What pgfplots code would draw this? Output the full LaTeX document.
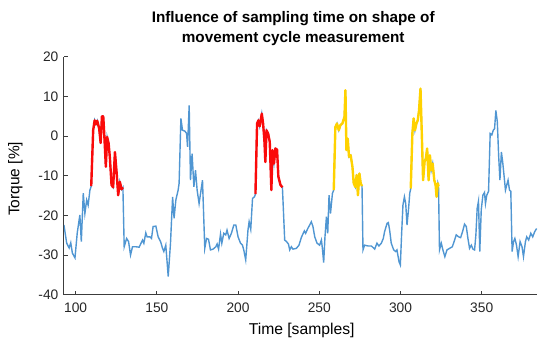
\documentclass[border=0pt]{standalone}
\usepackage{fontspec}
\setmainfont{Liberation Sans}
\usepackage{pgfplots}
\pgfplotsset{compat=1.18}
\definecolor{lblue}{RGB}{80,150,210}
\definecolor{lred}{RGB}{250,10,10}
\definecolor{lyel}{RGB}{255,210,0}
\definecolor{axgray}{RGB}{60,60,60}
\begin{document}
\begin{tikzpicture}
\begin{axis}[
  scale only axis,
  width=474pt, height=238pt,
  at={(0,0)}, anchor=south west,
  xmin=92.8, xmax=384.3, ymin=-40, ymax=20,
  axis x line*=bottom, axis y line*=left,
  axis line style={-, axgray, line width=1.1pt},
  tick align=inside,
  major tick length=4pt,
  tick style={axgray, line width=1pt},
  xtick={100,150,200,250,300,350},
  ytick={-40,-30,-20,-10,0,10,20},
  /pgf/number format/assume math mode=true,
  tick label style={font=\fontsize{13.8}{16}\selectfont, text=black!85},
  xticklabel style={anchor=base, yshift=-18pt},
  yticklabel style={xshift=-2pt},
  title={Influence of sampling time on shape of\\movement cycle measurement},
  every axis title/.style={at={(axis description cs:0.5,1)}, anchor=south, inner sep=0pt, yshift=10.8pt, xshift=-7.5pt, align=center, font=\bfseries\fontsize{15.3}{20}\selectfont},
  xlabel={Time [samples]},
  every axis x label/.style={at={(axis description cs:0.502,-0.168)}, anchor=base, font=\fontsize{15.7}{18}\selectfont},
  ylabel={Torque [\%]},
  every axis y label/.style={at={(axis description cs:-0.0939,0.487)}, rotate=90, anchor=base, font=\fontsize{15.5}{18}\selectfont},
]
\addplot[lblue, line width=1.4pt] coordinates {
(92.8,-22.4) (94.5,-27) (96,-28.2) (97,-26.9) (98,-29.5) (99.6,-30.7) (101,-24.4) (102.6,-19.9) (103.5,-26.6) (104.7,-14.4) (105.7,-19.5) (106.8,-16.1) (107.7,-17.4) (108.8,-13.6) (109.6,-12.6)
(110.8,1.5) (111.7,4.0) (112.5,3.0) (113.3,3.9) (114.5,1.9) (115.4,-1.7) (116.2,5.0) (117,5.0) (117.6,0.7) (118.6,-7.7) (119.4,-0.2) (120.3,-1.8) (121.1,-5.5) (122.1,-12.3) (123.1,-12.9) (124.2,-4) (125.2,-9) (126.2,-14.9) (127.2,-11.5) (128.3,-13.4) (129.1,-12.9)
(129.9,-27.9) (131.4,-25.8) (132.6,-26.6) (133.8,-30) (135,-27.9) (137,-27.9) (139.1,-28) (141.2,-26.2) (142,-27) (143.2,-24.4) (144,-25.4) (145.7,-25.4) (146.7,-25.8) (147.7,-22.8) (149.4,-22.7) (150.8,-25.4) (152.3,-26.6) (153.5,-28.3) (154.3,-29.1) (155.5,-27.5) (157,-35.4) (158.4,-27) (159.7,-15.3) (160.6,-20.7) (161.7,-16.1) (163.1,-13.6) (163.7,-11.9) (164.8,4.5) (165.8,1.5) (167.2,1.3) (168.3,0.7) (168.9,-2.7) (169.9,7.8) (170.7,-11.1) (171.7,-4.4) (172.8,-12.8) (173.8,-8.6) (174.8,-13.6) (176,-17) (177.2,-13.6) (178.1,-11.1) (179.5,-28.3) (180.6,-25.8) (181.8,-26) (183,-28.7) (184.6,-28.5) (186.3,-27.9) (187.1,-27.2) (188,-28.5) (189.2,-24.7) (190,-27) (191.2,-24.5) (192.4,-24.9) (193.2,-23.7) (194.5,-25.8) (195.9,-24.5) (197.4,-22.4) (198.6,-22.4) (200,-25.4) (201.5,-27) (202.7,-27.5) (203.5,-28.7) (204.7,-31.2) (206.1,-23.7) (206.8,-21.6) (207.8,-23.5) (208.9,-15.7) (210.1,-15.3) (210.7,-14.6)
(211.7,3.2) (212.5,4.0) (213.3,2.5) (214.6,5.7) (215.4,3.2) (216.2,-1) (216.8,-6.5) (217.5,1.5) (218.5,0.7) (219.5,-1.4) (220.5,-13.6) (221.2,-3.5) (222.1,-6.9) (223,-3.1) (224,-3.4) (224.8,-10.2) (226.1,-12.3) (227.3,-12.9)
(228.7,-26.2) (229.8,-26.6) (231,-27.2) (231.8,-28.7) (232.8,-27.9) (233.8,-28.5) (235.9,-28.3) (237.5,-27.5) (239,-25.5) (240.8,-23.9) (241.6,-24.5) (242.9,-23.3) (244.1,-22.4) (245.1,-21.6) (246.1,-22.8) (247.2,-25.4) (248.6,-27) (250.2,-27.5) (251.3,-26.2) (251.9,-28.3) (252.7,-31.9) (253.5,-25.4) (254.4,-20.3) (255.2,-24.5) (256,-14.9) (256.9,-19.5) (258.1,-14.4) (258.9,-13.6)
(259.9,2.3) (260.9,3.2) (262,1.5) (263,2.8) (264.2,3.2) (265.5,4.9) (266.1,11.6) (266.7,-3.5) (267.5,-0.6) (268.3,-5.2) (269.3,-4.8) (270.4,-7.7) (271.2,-11.9) (272.2,-12.8) (273,-9.8) (273.8,-14.9) (274.7,-9.4) (275.5,-11.9) (276.3,-12.6)
(276.9,-28.7) (277.9,-27.5) (280,-27.7) (282.1,-27.7) (284.1,-28.5) (285.5,-27) (286.7,-27.7) (288.2,-27) (289.4,-25.8) (290.2,-24.1) (291.7,-22) (292.5,-21.8) (293.3,-23.7) (294.3,-27) (295.8,-28.7) (297,-29.1) (297.8,-28.7) (299.1,-31.7) (299.9,-32.5) (300.7,-24.5) (301.5,-17.4) (302.4,-15.3) (303.2,-17) (304,-22.4) (304.9,-18.6) (305.7,-14.4) (306.3,-13.2)
(307.3,0.7) (308.1,4.5) (308.9,1.5) (309.8,3.2) (310.6,4.0) (311.4,6.5) (312.3,12) (313.1,0.7) (313.9,-11.1) (314.8,-6.5) (315.6,-5.6) (316.4,-3.1) (317.3,-11.1) (318.1,-4.8) (318.9,-8.6) (319.8,-6.9) (320.8,-11.1) (321.6,-12.3) (322.2,-15.3) (323,-11.9) (323.4,-12.6)
(324,-28.7) (325.1,-27) (326.1,-28.7) (327.3,-30.4) (328.6,-28.7) (330.2,-28.3) (331.9,-27.9) (333.3,-26.2) (334.3,-24.9) (335.8,-25.4) (337,-25.6) (338.2,-24.1) (339.4,-22.2) (340.5,-22.8) (341.5,-25.8) (342.5,-28.3) (343.6,-27.5) (344.6,-28.5) (345.6,-28.7) (346.4,-24.9) (347.2,-18.2) (348,-16.4) (348.8,-29.1) (349.7,-18.6) (350.7,-14.9) (351.7,-14.2) (352.3,-17) (353.1,-14.9) (354.2,-13.9) (355.2,0.7) (356.2,0.3) (357.1,1.5) (357.9,1.9) (358.7,6.5) (359.6,3.6) (360.4,-4.8) (361.2,-11.1) (362.1,-4) (362.9,-6.5) (363.7,-9.8) (364.6,-13.6) (365.4,-12.3) (366.2,-11.1) (367.1,-13.6) (367.9,-13.9) (368.7,-29.1) (369.6,-26.6) (370.4,-25.8) (371.4,-27.5) (372.4,-30.4) (373.6,-26.6) (374.8,-27.9) (375.7,-30.4) (376.9,-26.6) (377.7,-25.4) (378.9,-26.2) (380.2,-24.5) (381.4,-25.4) (382.6,-24.1) (383.8,-23.3)
};
\addplot[lred, line width=2.4pt, line join=round] coordinates {
(109.6,-12.6) (110.8,1.5) (111.7,4.0) (112.5,3.0) (113.3,3.9) (114.5,1.9) (115.4,-1.7) (116.2,5.0) (117,5.0) (117.6,0.7) (118.6,-7.7) (119.4,-0.2) (120.3,-1.8) (121.1,-5.5) (122.1,-12.3) (123.1,-12.9) (124.2,-4) (125.2,-9) (126.2,-14.9) (127.2,-11.5) (128.3,-13.4) (129.1,-12.9)
};
\addplot[lred, line width=2.4pt, line join=round] coordinates {
(210.7,-14.6) (211.7,3.2) (212.5,4.0) (213.3,2.5) (214.6,5.7) (215.4,3.2) (216.2,-1) (216.8,-6.5) (217.5,1.5) (218.5,0.7) (219.5,-1.4) (220.5,-13.6) (221.2,-3.5) (222.1,-6.9) (223,-3.1) (224,-3.4) (224.8,-10.2) (226.1,-12.3) (227.3,-12.9)
};
\addplot[lyel, line width=2.4pt, line join=round] coordinates {
(258.9,-13.6) (259.9,2.3) (260.9,3.2) (262,1.5) (263,2.8) (264.2,3.2) (265.5,4.9) (266.1,11.6) (266.7,-3.5) (267.5,-0.6) (268.3,-5.2) (269.3,-4.8) (270.4,-7.7) (271.2,-11.9) (272.2,-12.8) (273,-9.8) (273.8,-14.9) (274.7,-9.4) (275.5,-11.9) (276.3,-12.6)
};
\addplot[lyel, line width=2.4pt, line join=round] coordinates {
(306.3,-13.2) (307.3,0.7) (308.1,4.5) (308.9,1.5) (309.8,3.2) (310.6,4.0) (311.4,6.5) (312.3,12) (313.1,0.7) (313.9,-11.1) (314.8,-6.5) (315.6,-5.6) (316.4,-3.1) (317.3,-11.1) (318.1,-4.8) (318.9,-8.6) (319.8,-6.9) (320.8,-11.1) (321.6,-12.3) (322.2,-15.3) (323,-11.9) (323.4,-12.6)
};
\end{axis}
\useasboundingbox (-64pt,-43pt) rectangle (474pt,295pt);
\end{tikzpicture}
\end{document}
